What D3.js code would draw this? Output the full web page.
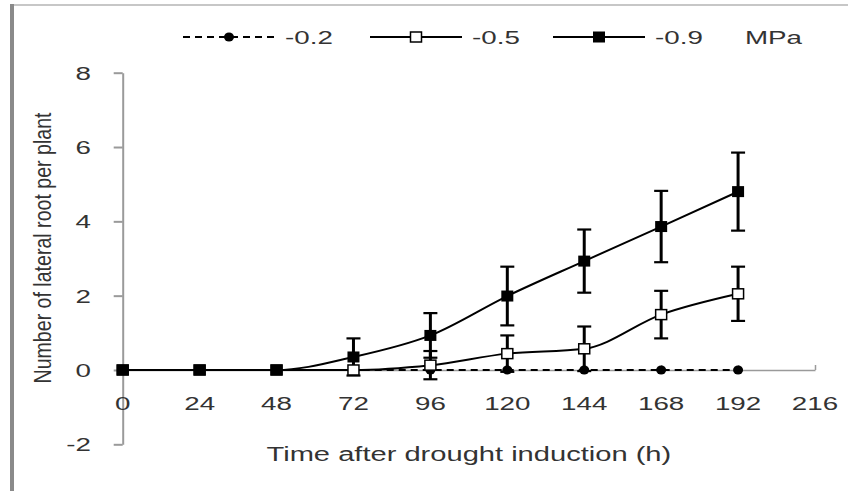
<!DOCTYPE html>
<html>
<head>
<meta charset="utf-8">
<script src="https://cdn.jsdelivr.net/npm/d3@7"></script>
<style>
  body { margin: 0; background: #fff; }
  svg { display: block; font-family: "Liberation Sans", Arial, sans-serif; }
</style>
</head>
<body>
<svg id="chart" width="848" height="491"></svg>
<script>
// values
const hours = [0, 24, 48, 72, 96, 120, 144, 168, 192];
const mpa02 = [0, 0, 0, 0, 0, 0, 0, 0, 0];
const mpa02_err = [0, 0, 0, 0, 0, 0, 0, 0, 0];
const mpa05 = [0, 0, 0, 0, 0.13, 0.44, 0.57, 1.49, 2.05];
const mpa05_err = [0, 0, 0, 0, 0.38, 0.49, 0.6, 0.64, 0.73];
const mpa09 = [0, 0, 0, 0.35, 0.93, 1.99, 2.93, 3.86, 4.8];
const mpa09_err = [0, 0, 0, 0.5, 0.6, 0.79, 0.85, 0.96, 1.05];

const x_ticks = [0, 24, 48, 72, 96, 120, 144, 168, 192, 216];
const y_ticks = [-2, 0, 2, 4, 6, 8];
const legend_labels = ["-0.2", "-0.5", "-0.9"];
const unit_label = "MPa";
const x_title = "Time after drought induction (h)";
const y_title = "Number of lateral root  per plant";

const series = [
  { name: legend_labels[0], values: mpa02, err: mpa02_err, marker: "circle", dash: "7,5" },
  { name: legend_labels[1], values: mpa05, err: mpa05_err, marker: "open", dash: null },
  { name: legend_labels[2], values: mpa09, err: mpa09_err, marker: "filled", dash: null }
];

// the source image is stretched sideways, so text gets scaled the same way
const stretch = 1.5;
const text_color = "#333";
const axis_color = "#9a9a9a";

const svg = d3.select("#chart");

const x = d3.scaleLinear().domain([0, 216]).range([122.7, 815]);
const y = d3.scaleLinear().domain([-2, 8]).range([444.3, 72.7]);

// frame of the source picture
svg.append("line").attr("x1", 10).attr("x2", 848).attr("y1", 5).attr("y2", 5)
  .attr("stroke", "#b5b5b5").attr("stroke-width", 1.5);
svg.append("line").attr("x1", 12).attr("x2", 12).attr("y1", 4).attr("y2", 491)
  .attr("stroke", "#8a8a8a").attr("stroke-width", 4);

function stretched_text(xp, yp, str, anchor, size = 18.5) {
  return svg.append("text")
    .attr("transform", `translate(${xp},${yp}) scale(${stretch},1)`)
    .attr("text-anchor", anchor)
    .attr("fill", text_color)
    .attr("font-size", size)
    .text(str);
}

// y axis
const y_axis = svg.append("g")
  .attr("transform", `translate(${x(0)},0)`)
  .call(d3.axisLeft(y).tickValues(y_ticks).tickSize(9).tickSizeOuter(0).tickFormat(""));
y_axis.selectAll("line, path").attr("stroke", axis_color).attr("stroke-width", 2);

// plain hyphen for negatives, like the source
y_ticks.forEach(v => stretched_text(91, y(v) + 7, String(v), "end"));

// x axis on the zero line, ticks pointing up
const x_axis = svg.append("g")
  .attr("transform", `translate(0,${y(0)})`)
  .call(d3.axisTop(x).tickValues(x_ticks).tickSize(5).tickSizeOuter(0).tickFormat(""));
x_axis.selectAll("line, path").attr("stroke", axis_color).attr("stroke-width", 1.5);

x_ticks.forEach(v => stretched_text(x(v), 410, String(v), "middle"));

// axis titles
stretched_text((x(0) + x(216)) / 2, 461, x_title, "middle", 19.4);

svg.append("text")
  .attr("transform", `translate(51,248) scale(${stretch},1) rotate(-90)`)
  .attr("text-anchor", "middle")
  .attr("fill", text_color)
  .attr("font-size", 15.5)
  .attr("textLength", 271)
  .attr("lengthAdjust", "spacingAndGlyphs")
  .text(y_title);

// lines
const line = d3.line()
  .x((d, i) => x(hours[i]))
  .y(d => y(d))
  .curve(d3.curveMonotoneX);

function draw_marker(g, kind, cx, cy) {
  if (kind === "circle") {
    g.append("ellipse").attr("cx", cx).attr("cy", cy).attr("rx", 5).attr("ry", 4.5).attr("fill", "#000");
  } else if (kind === "open") {
    g.append("rect").attr("x", cx - 5.5).attr("y", cy - 5).attr("width", 11).attr("height", 10)
      .attr("fill", "#fff").attr("stroke", "#000").attr("stroke-width", 1.5);
  } else {
    g.append("rect").attr("x", cx - 6).attr("y", cy - 5.5).attr("width", 12).attr("height", 11)
      .attr("fill", "#000");
  }
}

series.forEach(s => {
  svg.append("path")
    .datum(s.values)
    .attr("d", line)
    .attr("fill", "none")
    .attr("stroke", "#000")
    .attr("stroke-width", 2)
    .attr("stroke-dasharray", s.dash);
});

// error bars
series.forEach(s => {
  const g = svg.append("g");
  s.values.forEach((v, i) => {
    if (!s.err[i]) return;
    const cx = x(hours[i]);
    const top = y(v + s.err[i]);
    const bot = y(v - s.err[i]);
    g.append("line").attr("x1", cx).attr("x2", cx).attr("y1", top).attr("y2", bot)
      .attr("stroke", "#000").attr("stroke-width", 3);
    [top, bot].forEach(yy => {
      g.append("line").attr("x1", cx - 7).attr("x2", cx + 7).attr("y1", yy).attr("y2", yy)
        .attr("stroke", "#000").attr("stroke-width", 2.2);
    });
  });
});

// markers
series.forEach(s => {
  const g = svg.append("g");
  s.values.forEach((v, i) => draw_marker(g, s.marker, x(hours[i]), y(v)));
});

// legend
const legend_x = [183, 370, 553];
series.forEach((s, i) => {
  const g = svg.append("g");
  g.append("line").attr("x1", legend_x[i]).attr("x2", legend_x[i] + 92)
    .attr("y1", 37).attr("y2", 37)
    .attr("stroke", "#000").attr("stroke-width", 2)
    .attr("stroke-dasharray", s.dash);
  draw_marker(g, s.marker, legend_x[i] + 46, 37);
  stretched_text(legend_x[i] + 102, 44, s.name, "start");
});
stretched_text(745, 44, unit_label, "start");
</script>
</body>
</html>
